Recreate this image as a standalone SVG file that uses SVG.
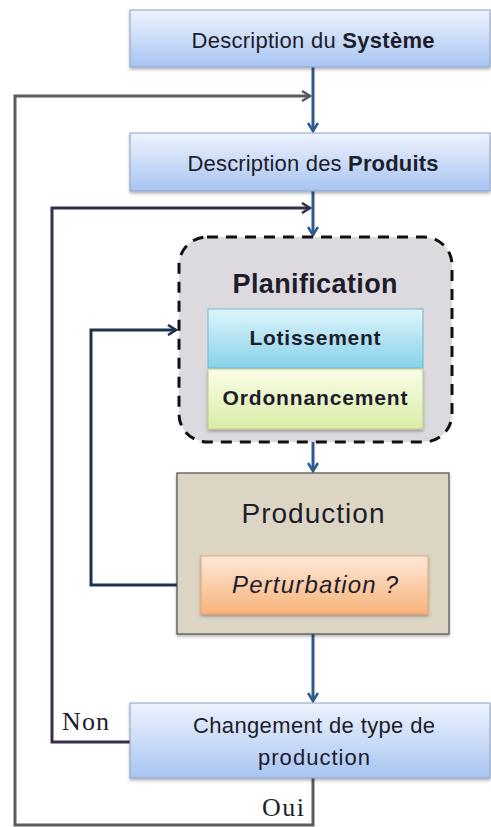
<svg xmlns="http://www.w3.org/2000/svg" width="491" height="827" viewBox="0 0 491 827">
<defs>
<linearGradient id="gBlue" x1="0" y1="0" x2="0" y2="1"><stop offset="0" stop-color="#eef3fd"/><stop offset="1" stop-color="#a8c4f2"/></linearGradient>
<linearGradient id="gCyan" x1="0" y1="0" x2="0" y2="1"><stop offset="0" stop-color="#dff5fb"/><stop offset="1" stop-color="#86d2ea"/></linearGradient>
<linearGradient id="gYel" x1="0" y1="0" x2="0" y2="1"><stop offset="0" stop-color="#fbfde8"/><stop offset="1" stop-color="#d9eca6"/></linearGradient>
<linearGradient id="gOr" x1="0" y1="0" x2="0" y2="1"><stop offset="0" stop-color="#fde9d8"/><stop offset="1" stop-color="#f8b27a"/></linearGradient>
<filter id="sh" x="-5%" y="-10%" width="110%" height="130%"><feDropShadow dx="0" dy="2" stdDeviation="1.5" flood-color="#000" flood-opacity="0.3"/></filter>
<marker id="aBlue" viewBox="0 0 12 12" refX="10" refY="6" markerWidth="12" markerHeight="12" markerUnits="userSpaceOnUse" orient="auto"><path d="M2,1 L10,6 L2,11" fill="none" stroke="#2e5a8e" stroke-width="2.6"/></marker>
<marker id="aGray" viewBox="0 0 12 12" refX="10" refY="6" markerWidth="12" markerHeight="12" markerUnits="userSpaceOnUse" orient="auto"><path d="M2,1 L10,6 L2,11" fill="none" stroke="#5c5c5c" stroke-width="2.6"/></marker>
<marker id="aPur" viewBox="0 0 12 12" refX="10" refY="6" markerWidth="12" markerHeight="12" markerUnits="userSpaceOnUse" orient="auto"><path d="M2,1 L10,6 L2,11" fill="none" stroke="#3b2e4c" stroke-width="2.6"/></marker>
<marker id="aNavy" viewBox="0 0 12 12" refX="10" refY="6" markerWidth="12" markerHeight="12" markerUnits="userSpaceOnUse" orient="auto"><path d="M2,1 L10,6 L2,11" fill="none" stroke="#1f3150" stroke-width="2.6"/></marker>
</defs>
<style>
.box{fill:url(#gBlue);stroke:#8ba2c4;stroke-width:1;filter:url(#sh)}
.t{font-family:"Liberation Sans",Arial,sans-serif;fill:#1d1d2b;text-anchor:middle}
.s{font-family:"Liberation Serif","Times New Roman",serif;fill:#1d1d2b;font-size:26px}
.c{fill:none;stroke-width:3}
</style>
<rect width="491" height="827" fill="#ffffff"/>
<g id="connectors">
<line class="c" x1="313" y1="67" x2="313" y2="131" stroke="#2e5a8e" marker-end="url(#aBlue)"/>
<line class="c" x1="313" y1="191" x2="313" y2="235" stroke="#2e5a8e" marker-end="url(#aBlue)"/>
<line class="c" x1="313" y1="442" x2="313" y2="471" stroke="#2e5a8e" marker-end="url(#aBlue)"/>
<line class="c" x1="313" y1="614" x2="313" y2="701" stroke="#2e5a8e" marker-end="url(#aBlue)"/>
<polyline class="c" points="313,778 313,825 15,825 15,96 310,96" stroke="#5c5c5c" marker-end="url(#aGray)"/>
<polyline class="c" points="130,742 52,742 52,208 310,208" stroke="#3b2e4c" marker-end="url(#aPur)"/>
<polyline class="c" points="201,585 91,585 91,330 176,330" stroke="#1f3150" marker-end="url(#aNavy)"/>
</g>
<g id="systeme">
<rect class="box" x="130" y="10" width="360" height="57"/>
<text class="t" x="313" y="48" font-size="22" textLength="243">Description du <tspan font-weight="bold">Système</tspan></text>
</g>
<g id="produits">
<rect class="box" x="130" y="133" width="360" height="58"/>
<text class="t" x="313" y="171" font-size="22" textLength="251">Description des <tspan font-weight="bold">Produits</tspan></text>
</g>
<g id="planification">
<rect x="179" y="237" width="273" height="205" rx="28" fill="#dcd9df" stroke="#111" stroke-width="3" stroke-dasharray="11,8"/>
<text class="t" x="315" y="293" font-size="27" font-weight="bold" textLength="165">Planification</text>
</g>
<g id="lotissement">
<rect x="208" y="309" width="215" height="59" fill="url(#gCyan)" stroke="#6fb6cf" stroke-width="1"/>
<text class="t" x="315" y="345" font-size="21" font-weight="bold" textLength="131">Lotissement</text>
</g>
<g id="ordonnancement">
<rect x="208" y="369" width="215" height="60" fill="url(#gYel)" stroke="#b9cc8a" stroke-width="1" filter="url(#sh)"/>
<text class="t" x="315" y="405" font-size="21" font-weight="bold" textLength="185">Ordonnancement</text>
</g>
<g id="production">
<rect x="177" y="473" width="272" height="161" fill="#ddd5c3" stroke="#4d4d4d" stroke-width="1.2" filter="url(#sh)"/>
<text class="t" x="313" y="523" font-size="28" textLength="143">Production</text>
</g>
<g id="perturbation">
<rect x="201" y="556" width="227" height="58" fill="url(#gOr)" stroke="#e8a070" stroke-width="1" filter="url(#sh)"/>
<text class="t" x="315" y="593" font-size="24" font-style="italic" textLength="166">Perturbation ?</text>
</g>
<g id="changement">
<rect class="box" x="130" y="703" width="360" height="75"/>
<text class="t" x="314" y="733" font-size="22" textLength="242">Changement de type de</text>
<text class="t" x="314" y="765" font-size="22" textLength="112">production</text>
</g>
<text class="s" x="62" y="730" textLength="47">Non</text>
<text class="s" x="262" y="816" textLength="42">Oui</text>
</svg>
